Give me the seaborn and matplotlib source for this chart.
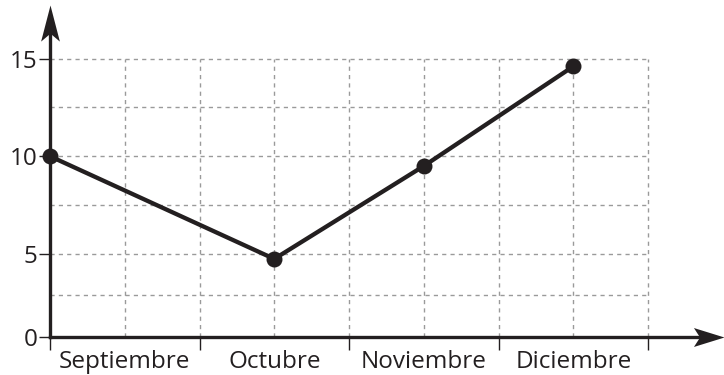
import numpy as np
import pandas as pd
import matplotlib
matplotlib.use("Agg")
import matplotlib.pyplot as plt
from matplotlib.path import Path
import seaborn as sns

# Data
meses = ["Septiembre", "Octubre", "Noviembre", "Diciembre"]
posicion = [0.0, 1.5, 2.5, 3.5]
valores = [10.0, 4.7, 9.5, 14.6]
yticks = [0, 5, 10, 15]
ygrid = [2.5, 5, 7.5, 10, 12.5, 15]
xgrid = [0.5, 1, 1.5, 2, 2.5, 3, 3.5, 4]

df = pd.DataFrame({"x": posicion, "valor": valores})

sns.set_theme(style="white")
plt.rcParams["font.family"] = ["Open Sans", "DejaVu Sans"]

INK = "#231f20"
GRID = "#9a9a9a"

W, H = 724, 375
fig = plt.figure(figsize=(W / 100, H / 100), dpi=100)
x0, y0, x1, y1 = 50, 337, 724, 5
ax = fig.add_axes([x0 / W, (H - y0) / H, (x1 - x0) / W, (y0 - y1) / H])

# the band below 5 is drawn a little tighter than the rest of the axis
def fwd(y):
    y = np.asarray(y, dtype=float)
    return np.where(y < 5, 5 - (5 - y) * 0.85, y)

def inv(v):
    v = np.asarray(v, dtype=float)
    return np.where(v < 5, 5 - (5 - v) / 0.85, v)

ax.set_yscale("function", functions=(fwd, inv))
ax.set_xlim(0, 4.508)
ax.set_ylim(0, 17.74)

# dashed grid
dash = (0, (3, 3))
ax.hlines(ygrid, 0, 4, colors=GRID, linestyles=dash, linewidth=1, zorder=1)
ax.vlines(xgrid, 0, 15, colors=GRID, linestyles=dash, linewidth=1, zorder=1)

# data line
sns.lineplot(data=df, x="x", y="valor", ax=ax, color=INK, linewidth=3.1,
             marker="o", markersize=11.5, markeredgewidth=0, zorder=5,
             clip_on=False)

# axes with arrowheads
for s in ["top", "right"]:
    ax.spines[s].set_visible(False)
for s in ["left", "bottom"]:
    ax.spines[s].set_color(INK)
    ax.spines[s].set_linewidth(2.4)
    ax.spines[s].set_zorder(4)
ax.spines["left"].set_bounds(0, 16.8)
ax.spines["bottom"].set_bounds(0, 4.35)

head = Path([(0, 0), (-0.26, -1), (0, -0.78), (0.26, -1), (0, 0)],
            [Path.MOVETO, Path.LINETO, Path.LINETO, Path.LINETO, Path.CLOSEPOLY])
ax.plot([0], [17.74], marker=head, markersize=52, color=INK,
        markeredgewidth=0, clip_on=False, zorder=6)
head_r = Path([(0, 0), (-1, 0.31), (-0.8, 0), (-1, -0.31), (0, 0)],
              [Path.MOVETO, Path.LINETO, Path.LINETO, Path.LINETO, Path.CLOSEPOLY])
ax.plot([4.508], [0], marker=head_r, markersize=44, color=INK,
        markeredgewidth=0, clip_on=False, zorder=6)

# ticks
ax.set_yticks(yticks)
ax.set_yticklabels([str(t) for t in yticks])
ax.set_xticks([0, 1, 2, 3, 4])
ax.set_xticklabels([])
ax.set_xticks([0.5, 1.5, 2.5, 3.5], minor=True)
ax.set_xticklabels(meses, minor=True)
ax.set_xlabel("")
ax.set_ylabel("")
ax.tick_params(axis="y", which="major", direction="out", length=8, width=1,
               color=INK, labelsize=17.5, labelcolor=INK, pad=1, left=True)
ax.tick_params(axis="x", which="major", direction="out", length=9, width=1,
               color=INK, bottom=True)
ax.tick_params(axis="x", which="minor", length=0, labelsize=17.5,
               labelcolor=INK, pad=9)

fig.savefig("out.png", dpi=100)
